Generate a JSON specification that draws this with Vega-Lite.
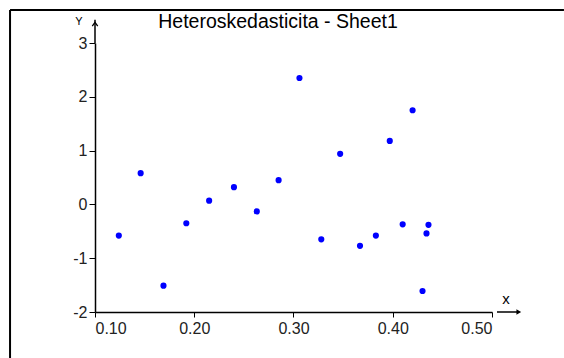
{
  "$schema": "https://vega.github.io/schema/vega-lite/v6.json",
  "width": 397,
  "height": 269,
  "autosize": "none",
  "padding": {"left": 95, "top": 43, "right": 72, "bottom": 46},
  "background": "white",
  "config": {"view": {"stroke": null}, "font": "Liberation Sans"},
  "datasets": {
    "points": [
      {"x": 0.124, "y": -0.58},
      {"x": 0.146, "y": 0.58},
      {"x": 0.169, "y": -1.51},
      {"x": 0.192, "y": -0.35},
      {"x": 0.215, "y": 0.07},
      {"x": 0.240, "y": 0.32},
      {"x": 0.263, "y": -0.13},
      {"x": 0.285, "y": 0.45},
      {"x": 0.306, "y": 2.35},
      {"x": 0.328, "y": -0.65},
      {"x": 0.347, "y": 0.94},
      {"x": 0.367, "y": -0.77},
      {"x": 0.383, "y": -0.58},
      {"x": 0.397, "y": 1.18},
      {"x": 0.410, "y": -0.37},
      {"x": 0.420, "y": 1.75},
      {"x": 0.430, "y": -1.61},
      {"x": 0.434, "y": -0.54},
      {"x": 0.436, "y": -0.38}
    ]
  },
  "layer": [
    {
      "data": {"values": [{"x": 0.0144, "x2": 0.5725, "y": 3.613}]},
      "mark": {"type": "rule", "color": "black", "strokeWidth": 2},
      "encoding": {
        "x": {"field": "x", "type": "quantitative"},
        "x2": {"field": "x2"},
        "y": {"field": "y", "type": "quantitative"}
      }
    },
    {
      "data": {"values": [{"x": 0.0144, "y": 3.613, "y2": -2.87}]},
      "mark": {"type": "rule", "color": "black", "strokeWidth": 2},
      "encoding": {
        "x": {"field": "x", "type": "quantitative"},
        "y": {"field": "y", "type": "quantitative"},
        "y2": {"field": "y2"}
      }
    },
    {
      "data": {"values": [{"x": 0.1, "y": 3, "y2": 3.43}]},
      "mark": {"type": "rule", "color": "black", "strokeWidth": 1.5},
      "encoding": {
        "x": {"field": "x", "type": "quantitative"},
        "y": {"field": "y", "type": "quantitative"},
        "y2": {"field": "y2"}
      }
    },
    {
      "data": {"values": [{"x": 0.505, "x2": 0.527, "y": -2}]},
      "mark": {"type": "rule", "color": "black", "strokeWidth": 1.5},
      "encoding": {
        "x": {"field": "x", "type": "quantitative"},
        "x2": {"field": "x2"},
        "y": {"field": "y", "type": "quantitative"}
      }
    },
    {
      "data": {"values": [{"x": 0.1, "y": 3.35}]},
      "mark": {"type": "point", "shape": "M-1,0.7L0,-0.7L1,0.7", "filled": false, "size": 30, "color": "black", "strokeWidth": 1.3, "opacity": 1},
      "encoding": {
        "x": {"field": "x", "type": "quantitative"},
        "y": {"field": "y", "type": "quantitative"}
      }
    },
    {
      "data": {"values": [{"x": 0.527, "y": -2}]},
      "mark": {"type": "point", "shape": "triangle-right", "filled": true, "size": 30, "color": "black", "opacity": 1},
      "encoding": {
        "x": {"field": "x", "type": "quantitative"},
        "y": {"field": "y", "type": "quantitative"}
      }
    },
    {
      "data": {"values": [{"x": 0.0839, "y": 3.39, "t": "Y"}]},
      "mark": {"type": "text", "fontSize": 11, "color": "black", "align": "center", "baseline": "middle", "font": "Liberation Sans"},
      "encoding": {
        "x": {"field": "x", "type": "quantitative"},
        "y": {"field": "y", "type": "quantitative"},
        "text": {"field": "t"}
      }
    },
    {
      "data": {"values": [{"x": 0.514, "y": -1.76, "t": "x"}]},
      "mark": {"type": "text", "fontSize": 15, "color": "black", "align": "center", "baseline": "middle", "font": "Liberation Sans"},
      "encoding": {
        "x": {"field": "x", "type": "quantitative"},
        "y": {"field": "y", "type": "quantitative"},
        "text": {"field": "t"}
      }
    },
    {
      "data": {"values": [{"x": 0.2844, "y": 3.28, "t": "Heteroskedasticita - Sheet1"}]},
      "mark": {"type": "text", "fontSize": 19.5, "color": "black", "align": "center", "baseline": "alphabetic", "font": "Liberation Sans"},
      "encoding": {
        "x": {"field": "x", "type": "quantitative"},
        "y": {"field": "y", "type": "quantitative"},
        "text": {"field": "t"}
      }
    },
    {
      "data": {"name": "points"},
      "mark": {"type": "circle", "size": 38, "color": "#0000ff", "opacity": 1},
      "encoding": {
        "x": {
          "field": "x", "type": "quantitative",
          "scale": {"domain": [0.1, 0.5], "nice": false, "zero": false},
          "axis": {"title": null, "values": [0.1, 0.2, 0.3, 0.4, 0.5], "format": ".2f", "grid": false, "domainColor": "black", "domainWidth": 1.5, "tickColor": "black", "tickSize": 5, "labelFontSize": 16, "labelColor": "#222", "labelPadding": 3, "labelFont": "Liberation Sans"}
        },
        "y": {
          "field": "y", "type": "quantitative",
          "scale": {"domain": [-2, 3], "nice": false, "zero": false},
          "axis": {"title": null, "values": [-2, -1, 0, 1, 2, 3], "labelExpr": "toString(datum.value)", "grid": false, "domainColor": "black", "domainWidth": 1.5, "tickColor": "black", "tickSize": 6, "labelFontSize": 16, "labelColor": "#222", "labelPadding": 2, "labelFont": "Liberation Sans"}
        }
      }
    }
  ]
}
